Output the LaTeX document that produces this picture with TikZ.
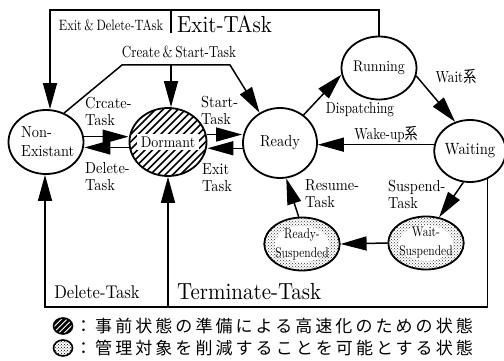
\documentclass[tikz,border=0pt]{standalone}
\usepackage{fontspec}
\setmainfont[FakeStretch=0.9]{lmroman10-regular.otf}
\newfontfamily\jpwide[LetterSpace=18]{Noto Sans CJK JP}
\newfontfamily\jpcond[FakeStretch=0.82]{Noto Sans CJK JP}
\newfontfamily\cond[FakeStretch=0.82]{lmroman10-regular.otf}
\usetikzlibrary{shapes.geometric,arrows.meta,patterns}

\tikzset{
  state/.style={ellipse, draw, line width=1.8pt, inner sep=0pt, align=center,
    font=\fontsize{16}{20}\selectfont},
  conn/.style={line width=1.5pt, -{Triangle[length=26pt,width=14pt]}},
  rule/.style={line width=1.5pt},
  lbl/.style={inner sep=0pt, align=left, font=\fontsize{16}{17}\selectfont},
  clbl/.style={inner sep=0pt, font=\cond\fontsize{16}{18}\selectfont},
  big/.style={inner sep=0pt, font=\fontsize{23.3}{25}\selectfont},
  hatchfill/.style={path picture={
    \foreach \k in {-12,...,12}
      \draw[line width=1.6pt] ([xshift=\k*7.5pt]path picture bounding box.center)
        ++(-50pt,-50pt) -- ++(100pt,100pt);
    \fill[white] ([xshift=-31pt,yshift=-8pt]path picture bounding box.center)
      rectangle ++(62pt,16pt);}},
  dotfill/.style={path picture={
    \fill[pattern=crosshatch dots, pattern color=black!80]
      (path picture bounding box.south west) rectangle (path picture bounding box.north east);
    \fill[white] (path picture bounding box.center) ellipse [x radius=27pt, y radius=18pt];}},
  hatchicon/.style={path picture={
    \foreach \k in {-6,...,6}
      \draw[line width=2.6pt] ([xshift=\k*5.5pt]path picture bounding box.center)
        ++(-20pt,-20pt) -- ++(40pt,40pt);}},
  doticon/.style={path picture={
    \fill[pattern=crosshatch dots, pattern color=black]
      (path picture bounding box.south west) rectangle (path picture bounding box.north east);}},
  susp/.style={state, dotfill, minimum width=70pt, minimum height=53pt,
    align=center, font=\cond\fontsize{14}{19}\selectfont},
}

\begin{document}
\begin{tikzpicture}[x=1pt,y=-1pt]
\useasboundingbox (0,0) rectangle (504,361);
\fill[white] (0,0) rectangle (504,361);

% states
\node[state, minimum width=75pt, minimum height=64pt] (ne) at (46,142) {};
\node[inner sep=0pt, anchor=west, font=\fontsize{16}{20}\selectfont] (netext) at (21,143)
  {\begin{tabular}{@{}l@{}}Non-\\[-1pt]Existant\end{tabular}};
\node[state, hatchfill, minimum width=75pt, minimum height=68pt, font=\fontsize{15.5}{17}\selectfont] (dorm) at (168,142) {Dormant};
\node[state, minimum width=74pt, minimum height=70pt] (ready) at (280,143) {Ready};
\node[state, minimum width=75pt, minimum height=63pt, font=\fontsize{15.5}{17}\selectfont] (run) at (379,68) {Running};
\node[state, minimum width=68pt, minimum height=62pt, font=\fontsize{16.3}{18}\selectfont] (wait) at (470,151) {Waiting};
\node[susp] (rsus) at (302,244) {Ready-\\Suspended};
\node[susp] (wsus) at (426,243) {Wait-\\Suspended};

% frame corners and junctions
\coordinate (tl) at (50,10);
\coordinate (tm) at (171,10);
\coordinate (tmd) at (171,33);
\coordinate (tm2) at (171,65);
\coordinate (cs1) at (122,65);
\coordinate (cs2) at (230,65);
\coordinate (bl) at (45,307);
\coordinate (bm) at (168,307);

% Exit & Delete-Task / Exit-Task from Running over the top
\draw[conn] (run.north) |- (tl) -- (tl |- ne.north);
\draw[rule] (tm) -- (tmd);
\draw[conn] (tm2) -- (tm2 |- dorm.north);

% Create & Start-Task
\draw[conn] (ne.58) -- (cs1) -- (cs2) -- (ready.124);

% Non-Existant <-> Dormant
\draw[conn] (ne.8) -- (ne.8 -| dorm.west);
\draw[conn] (dorm.188) -- (dorm.188 -| ne.east);

% Dormant <-> Ready
\draw[conn] (dorm.11) -- (dorm.11 -| ready.west);
\draw[conn] (ready.188) -- (ready.188 -| dorm.east);

% Ready / Running / Waiting
\draw[conn] (ready.50) -- (run.190);
\draw[conn] (run.-12) -- (wait.117);
\draw[conn] (wait.170) -- (wait.170 -| ready.east);

% suspended states
\draw[conn] (wait.258) -- (wsus.63);
\draw[conn] (wsus.west) -- (rsus.east);
\draw[conn] (rsus.97) -- (ready.280);

% Terminate-Task / Delete-Task along the bottom
\draw[conn] (wait.-58) |- (bl) -- (bl |- ne.south);
\draw[conn] (bm) -- (bm |- dorm.south);

% labels
\node[clbl, font=\cond\fontsize{15}{17}\selectfont] (lexd) at (111,25) {Exit\,\&\,Delete-TAsk};
\node[big, anchor=west] (lex) at (177,24) {Exit-TAsk};
\node[clbl] (lcs) at (179,52) {Create\,\&\,Start-Task};
\node[lbl, anchor=west] (lcr) at (85,111.5) {Crcate-\\Task};
\node[lbl, anchor=west] (ldel) at (85,176.5) {Delete-\\Task};
\node[lbl, anchor=west] (lst) at (201,110) {Start-\\Task};
\node[lbl, anchor=west] (lexit) at (202,177.5) {Exit\\Task};
\node[clbl] (ldisp) at (360,110) {Dispatching};
\node[clbl] (lwake) at (386,134) {Wake-up{\jpcond 系}};
\node[clbl] (lwait) at (456,77) {Wait{\jpcond 系}};
\node[lbl, anchor=west] (lres) at (305,194) {Resume-\\Task};
\node[lbl, anchor=west] (lsus) at (388,194) {Suspend-\\Task};
\node[inner sep=0pt, font=\fontsize{18.4}{20}\selectfont] (ldt) at (97,292) {Delete-Task};
\node[big, anchor=west] (lterm) at (177,292) {Terminate-Task};

% legend
\node[ellipse, draw, line width=1.6pt, inner sep=0pt, minimum width=19pt, minimum height=16pt, hatchicon] (ic1) at (63,326) {};
\node[ellipse, draw, line width=1.6pt, inner sep=0pt, minimum width=19pt, minimum height=16pt, doticon] (ic2) at (63,348) {};
\node[inner sep=0pt, anchor=west, font=\jpwide\fontsize{17}{19}\selectfont] (lg1) at (75,326) {：事前状態の準備による高速化のための状態};
\node[inner sep=0pt, anchor=west, font=\jpwide\fontsize{17}{19}\selectfont] (lg2) at (75,348) {：管理対象を削減することを可能とする状態};
\end{tikzpicture}
\end{document}
